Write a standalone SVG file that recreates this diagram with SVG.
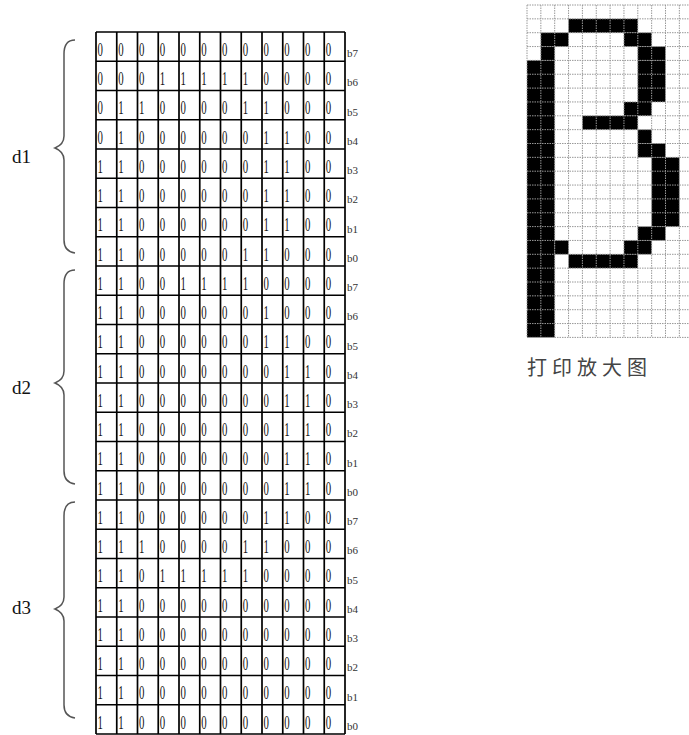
<svg xmlns="http://www.w3.org/2000/svg" width="689" height="735" viewBox="0 0 689 735">
<style>
.grid{fill:none;stroke:#000;stroke-width:1.7}
.dig{font-family:"Liberation Serif",serif;font-size:18px;fill:#111}
.bl{font-family:"Liberation Serif",serif;font-size:11px;fill:#333}
.lab{font-family:"Liberation Serif",serif;font-size:19px;fill:#111}
.brace{fill:none;stroke:#555;stroke-width:1.5}
.bmgrid{fill:none;stroke:#999;stroke-width:1;stroke-dasharray:1.5 1}
.cap{font-family:"Noto Sans CJK SC","Noto Sans CJK JP",sans-serif;font-size:20px;fill:#444;letter-spacing:5px}
</style>
<rect width="689" height="735" fill="#fff"/>
<g id="table">
<path class="grid" d="M96,32V734M116.75,32V734M137.5,32V734M158.25,32V734M179,32V734M199.75,32V734M220.5,32V734M241.25,32V734M262,32V734M282.75,32V734M303.5,32V734M324.25,32V734M345,32V734M96,32H345M96,61.25H345M96,90.5H345M96,119.75H345M96,149H345M96,178.25H345M96,207.5H345M96,236.75H345M96,266H345M96,295.25H345M96,324.5H345M96,353.75H345M96,383H345M96,412.25H345M96,441.5H345M96,470.75H345M96,500H345M96,529.25H345M96,558.5H345M96,587.75H345M96,617H345M96,646.25H345M96,675.5H345M96,704.75H345M96,734H345"/>
<g transform="scale(0.6,1)" class="dig">
<text x="162.5 197.08 231.67 266.25 300.83 335.42 370 404.58 439.17 473.75 508.33 542.92" y="56">000000000000</text>
<text x="162.5 197.08 231.67 266.25 300.83 335.42 370 404.58 439.17 473.75 508.33 542.92" y="85.25">000111110000</text>
<text x="162.5 197.08 231.67 266.25 300.83 335.42 370 404.58 439.17 473.75 508.33 542.92" y="114.5">011000011000</text>
<text x="162.5 197.08 231.67 266.25 300.83 335.42 370 404.58 439.17 473.75 508.33 542.92" y="143.75">010000001100</text>
<text x="162.5 197.08 231.67 266.25 300.83 335.42 370 404.58 439.17 473.75 508.33 542.92" y="173">110000001100</text>
<text x="162.5 197.08 231.67 266.25 300.83 335.42 370 404.58 439.17 473.75 508.33 542.92" y="202.25">110000001100</text>
<text x="162.5 197.08 231.67 266.25 300.83 335.42 370 404.58 439.17 473.75 508.33 542.92" y="231.5">110000001100</text>
<text x="162.5 197.08 231.67 266.25 300.83 335.42 370 404.58 439.17 473.75 508.33 542.92" y="260.75">110000011000</text>
<text x="162.5 197.08 231.67 266.25 300.83 335.42 370 404.58 439.17 473.75 508.33 542.92" y="290">110011110000</text>
<text x="162.5 197.08 231.67 266.25 300.83 335.42 370 404.58 439.17 473.75 508.33 542.92" y="319.25">110000001000</text>
<text x="162.5 197.08 231.67 266.25 300.83 335.42 370 404.58 439.17 473.75 508.33 542.92" y="348.5">110000001100</text>
<text x="162.5 197.08 231.67 266.25 300.83 335.42 370 404.58 439.17 473.75 508.33 542.92" y="377.75">110000000110</text>
<text x="162.5 197.08 231.67 266.25 300.83 335.42 370 404.58 439.17 473.75 508.33 542.92" y="407">110000000110</text>
<text x="162.5 197.08 231.67 266.25 300.83 335.42 370 404.58 439.17 473.75 508.33 542.92" y="436.25">110000000110</text>
<text x="162.5 197.08 231.67 266.25 300.83 335.42 370 404.58 439.17 473.75 508.33 542.92" y="465.5">110000000110</text>
<text x="162.5 197.08 231.67 266.25 300.83 335.42 370 404.58 439.17 473.75 508.33 542.92" y="494.75">110000000110</text>
<text x="162.5 197.08 231.67 266.25 300.83 335.42 370 404.58 439.17 473.75 508.33 542.92" y="524">110000001100</text>
<text x="162.5 197.08 231.67 266.25 300.83 335.42 370 404.58 439.17 473.75 508.33 542.92" y="553.25">111000011000</text>
<text x="162.5 197.08 231.67 266.25 300.83 335.42 370 404.58 439.17 473.75 508.33 542.92" y="582.5">110111110000</text>
<text x="162.5 197.08 231.67 266.25 300.83 335.42 370 404.58 439.17 473.75 508.33 542.92" y="611.75">110000000000</text>
<text x="162.5 197.08 231.67 266.25 300.83 335.42 370 404.58 439.17 473.75 508.33 542.92" y="641">110000000000</text>
<text x="162.5 197.08 231.67 266.25 300.83 335.42 370 404.58 439.17 473.75 508.33 542.92" y="670.25">110000000000</text>
<text x="162.5 197.08 231.67 266.25 300.83 335.42 370 404.58 439.17 473.75 508.33 542.92" y="699.5">110000000000</text>
<text x="162.5 197.08 231.67 266.25 300.83 335.42 370 404.58 439.17 473.75 508.33 542.92" y="728.75">110000000000</text>
</g>
<g class="bl">
<text x="347" y="57">b7</text>
<text x="347" y="86.25">b6</text>
<text x="347" y="115.5">b5</text>
<text x="347" y="144.75">b4</text>
<text x="347" y="174">b3</text>
<text x="347" y="203.25">b2</text>
<text x="347" y="232.5">b1</text>
<text x="347" y="261.75">b0</text>
<text x="347" y="291">b7</text>
<text x="347" y="320.25">b6</text>
<text x="347" y="349.5">b5</text>
<text x="347" y="378.75">b4</text>
<text x="347" y="408">b3</text>
<text x="347" y="437.25">b2</text>
<text x="347" y="466.5">b1</text>
<text x="347" y="495.75">b0</text>
<text x="347" y="525">b7</text>
<text x="347" y="554.25">b6</text>
<text x="347" y="583.5">b5</text>
<text x="347" y="612.75">b4</text>
<text x="347" y="642">b3</text>
<text x="347" y="671.25">b2</text>
<text x="347" y="700.5">b1</text>
<text x="347" y="729.75">b0</text>
</g>
</g>
<g id="braces">
<path class="brace" d="M75,40 C68,40 64,45 64,54 L64,136 C64,142 60,146 55,148 C60,150 64,154 64,160 L64,240 C64,248 68,252 75,253"/>
<path class="brace" d="M75,270 C68,270 64,275 64,284 L64,371 C64,377 60,381 55,383 C60,385 64,389 64,395 L64,471 C64,479 68,483 75,484"/>
<path class="brace" d="M75,502 C68,502 64,507 64,516 L64,597 C64,603 60,607 55,609 C60,611 64,615 64,621 L64,705 C64,713 68,717 75,718"/>
</g>
<g id="d1"><text class="lab" x="12" y="163">d1</text></g>
<g id="d2"><text class="lab" x="12" y="394">d2</text></g>
<g id="d3"><text class="lab" x="12" y="614">d3</text></g>
<g id="bitmap">
<g transform="translate(527,5) scale(13.85)" fill="#000">
<rect x="3" y="1" width="5" height="1"/>
<rect x="1" y="2" width="2" height="1"/><rect x="7" y="2" width="2" height="1"/>
<rect x="1" y="3" width="1" height="1"/><rect x="8" y="3" width="2" height="1"/>
<rect x="0" y="4" width="2" height="20"/>
<rect x="8" y="4" width="2" height="3"/>
<rect x="7" y="7" width="2" height="1"/>
<rect x="4" y="8" width="4" height="1"/>
<rect x="8" y="9" width="1" height="1"/>
<rect x="8" y="10" width="2" height="1"/>
<rect x="9" y="11" width="2" height="5"/>
<rect x="8" y="16" width="2" height="1"/>
<rect x="2" y="17" width="1" height="1"/><rect x="7" y="17" width="2" height="1"/>
<rect x="3" y="18" width="5" height="1"/>
</g>
<path class="bmgrid" d="M527,5V337.4M540.85,5V337.4M554.7,5V337.4M568.55,5V337.4M582.4,5V337.4M596.25,5V337.4M610.1,5V337.4M623.95,5V337.4M637.8,5V337.4M651.65,5V337.4M665.5,5V337.4M679.35,5V337.4M527,5H689M527,18.85H689M527,32.7H689M527,46.55H689M527,60.4H689M527,74.25H689M527,88.1H689M527,101.95H689M527,115.8H689M527,129.65H689M527,143.5H689M527,157.35H689M527,171.2H689M527,185.05H689M527,198.9H689M527,212.75H689M527,226.6H689M527,240.45H689M527,254.3H689M527,268.15H689M527,282H689M527,295.85H689M527,309.7H689M527,323.55H689M527,337.4H689"/>
</g>
<g id="caption"><text class="cap" x="527" y="375">打印放大图</text></g>
</svg>
